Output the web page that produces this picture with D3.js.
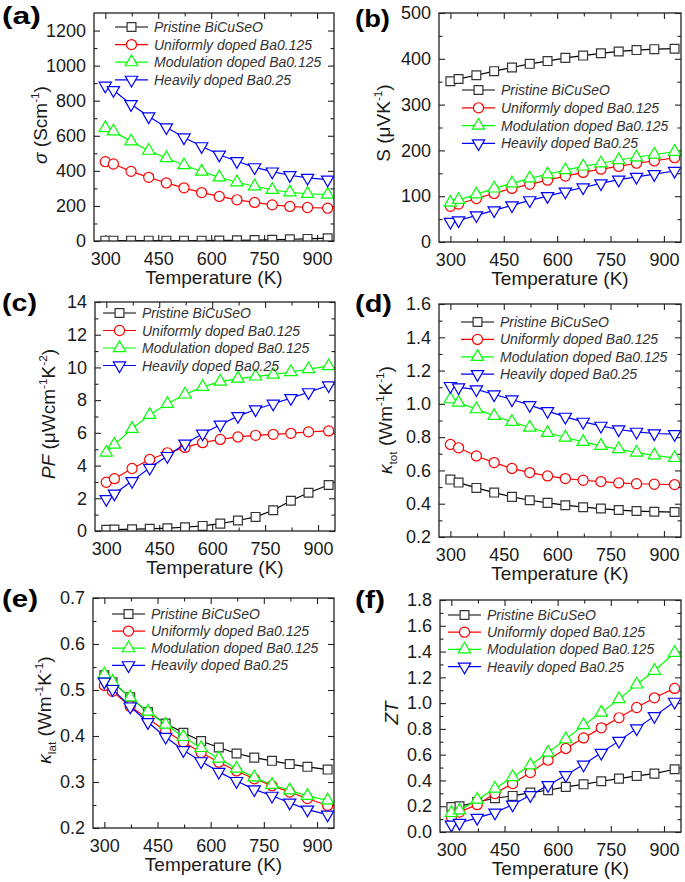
<!DOCTYPE html>
<html><head><meta charset="utf-8">
<script src="https://cdn.jsdelivr.net/npm/d3@7/dist/d3.min.js"></script>
<style>body{margin:0;background:#fff}</style>
</head><body><svg id="c" width="685" height="882"></svg>
<script>
// ---------- data ----------
const temps = [300,323,373,423,473,523,573,623,673,723,773,823,873,930];
const seriesNames = ["Pristine BiCuSeO","Uniformly doped Ba0.125","Modulation doped Ba0.125","Heavily doped Ba0.25"];
const seriesColors = ["#000000","#ff0000","#00ff00","#0000ff"];
const xTicks = [300,450,600,750,900];
const xMinor = [375,525,675,825];

// (a) electrical conductivity
const sigmaPristine   = [2,2,2,2,2,2,2,3,4,5,7,10,12,16];
const sigmaUniform    = [452,439,397,363,331,303,276,254,235,220,206,197,191,187];
const sigmaModulation = [644,625,568,515,473,433,396,363,335,312,292,278,269,265];
const sigmaHeavy      = [885,860,780,710,648,590,540,492,455,420,396,375,360,350];
const sigmaTicks = [0,200,400,600,800,1000,1200];
const sigmaMinor = [100,300,500,700,900,1100];

// (b) Seebeck
const sPristine   = [351,356,364,373,381,389,395,402,407,412,416,419,421,422];
const sUniform    = [78,83,95,106,117,126,135,144,152,159,165,172,177,184];
const sModulation = [86,92,104,117,128,139,148,157,165,172,179,185,191,197];
const sHeavy      = [44,47,58,69,80,91,100,110,119,128,136,142,148,155];
const sTicks = [0,100,200,300,400,500];
const sMinor = [50,150,250,350,450];

// (c) power factor
const pfPristine   = [0.08,0.09,0.11,0.13,0.17,0.23,0.31,0.45,0.64,0.86,1.27,1.85,2.34,2.81];
const pfUniform    = [2.98,3.20,3.82,4.37,4.78,5.11,5.40,5.60,5.75,5.85,5.91,5.97,6.06,6.12];
const pfModulation = [4.80,5.28,6.25,7.10,7.78,8.35,8.81,9.13,9.32,9.45,9.56,9.72,9.90,10.08];
const pfHeavy      = [1.95,2.28,3.05,3.86,4.58,5.34,5.95,6.50,7.02,7.43,7.78,8.12,8.48,8.90];
const pfTicks = [0,2,4,6,8,10,12,14];
const pfMinor = [1,3,5,7,9,11,13];

// (d) total thermal conductivity
const ktotPristine   = [0.545,0.527,0.495,0.467,0.441,0.421,0.405,0.391,0.379,0.371,0.362,0.356,0.352,0.350];
const ktotUniform    = [0.756,0.736,0.687,0.647,0.612,0.587,0.567,0.551,0.541,0.533,0.525,0.520,0.517,0.515];
const ktotModulation = [1.028,1.008,0.968,0.928,0.892,0.858,0.826,0.798,0.772,0.748,0.728,0.707,0.691,0.675];
const ktotHeavy      = [1.107,1.099,1.087,1.056,1.026,0.992,0.956,0.922,0.892,0.868,0.846,0.832,0.822,0.818];
const ktotTicks = [0.2,0.4,0.6,0.8,1.0,1.2,1.4,1.6];
const ktotMinor = [0.3,0.5,0.7,0.9,1.1,1.3,1.5];

// (e) lattice thermal conductivity
const klatPristine   = [0.532,0.517,0.484,0.452,0.427,0.407,0.389,0.375,0.362,0.353,0.346,0.339,0.333,0.327];
const klatUniform    = [0.510,0.497,0.464,0.438,0.411,0.387,0.364,0.343,0.324,0.307,0.292,0.278,0.264,0.249];
const klatModulation = [0.534,0.518,0.484,0.453,0.425,0.398,0.374,0.351,0.329,0.310,0.294,0.282,0.270,0.260];
const klatHeavy      = [0.518,0.502,0.464,0.430,0.398,0.369,0.345,0.322,0.302,0.284,0.270,0.255,0.240,0.229];
const klatTicks = [0.2,0.3,0.4,0.5,0.6,0.7];
const klatMinor = [0.25,0.35,0.45,0.55,0.65];

// (f) figure of merit
const ztPristine   = [0.194,0.199,0.233,0.262,0.280,0.306,0.324,0.350,0.370,0.394,0.414,0.435,0.453,0.487];
const ztUniform    = [0.117,0.155,0.212,0.298,0.376,0.461,0.557,0.648,0.730,0.808,0.886,0.966,1.041,1.114];
const ztModulation = [0.148,0.168,0.251,0.337,0.427,0.518,0.616,0.720,0.829,0.927,1.031,1.145,1.251,1.391];
const ztHeavy      = [0.057,0.070,0.109,0.150,0.212,0.285,0.363,0.440,0.523,0.614,0.707,0.803,0.899,1.010];
const ztTicks = [0,0.2,0.4,0.6,0.8,1.0,1.2,1.4,1.6,1.8];
const ztMinor = [0.1,0.3,0.5,0.7,0.9,1.1,1.3,1.5,1.7];

// ---------- layout ----------
const FONT = "'Liberation Sans', Arial, Helvetica, sans-serif";
const xDomain = [268, 948];
const panels = [
  {id:"a", box:[94,334,13,241], yDom:[0,1300], ticks:sigmaTicks, minor:sigmaMinor, fmt:d3.format("d"),
   series:[sigmaPristine,sigmaUniform,sigmaModulation,sigmaHeavy],
   legend:[115,27,17.6], letter:[2,24,39], ylab:[47,125],
   yparts:[{t:"σ",i:1},{t:" (Scm"},{t:"-1",s:"sup"},{t:")"}]},
  {id:"b", box:[439,681,13,242], yDom:[0,500], ticks:sTicks, minor:sMinor, fmt:d3.format("d"),
   series:[sPristine,sUniform,sModulation,sHeavy],
   legend:[462,90,17.8], letter:[355,27,35], ylab:[390,123],
   yparts:[{t:"S (μVK"},{t:"-1",s:"sup"},{t:")"}]},
  {id:"c", box:[95,335,302,531], yDom:[0,14], ticks:pfTicks, minor:pfMinor, fmt:d3.format("d"),
   series:[pfPristine,pfUniform,pfModulation,pfHeavy],
   legend:[103,313,17.5], letter:[2,311,35], ylab:[55,414],
   yparts:[{t:"PF",i:1},{t:" (μWcm"},{t:"-1",s:"sup"},{t:"K"},{t:"-2",s:"sup"},{t:")"}]},
  {id:"d", box:[439,681,304,537], yDom:[0.2,1.6], ticks:ktotTicks, minor:ktotMinor, fmt:d3.format(".1f"),
   series:[ktotPristine,ktotUniform,ktotModulation,ktotHeavy],
   legend:[461,322,17.4], letter:[355,312,37], ylab:[392,420],
   yparts:[{t:"κ",i:1},{t:"tot",s:"sub"},{t:" (Wm"},{t:"-1",s:"sup"},{t:"K"},{t:"-1",s:"sup"},{t:")"}]},
  {id:"e", box:[93,334,598,828], yDom:[0.2,0.7], ticks:klatTicks, minor:klatMinor, fmt:d3.format(".1f"),
   series:[klatPristine,klatUniform,klatModulation,klatHeavy],
   legend:[112,614,17.1], letter:[2,607,36], ylab:[51,710],
   yparts:[{t:"κ",i:1},{t:"lat",s:"sub"},{t:" (Wm"},{t:"-1",s:"sup"},{t:"K"},{t:"-1",s:"sup"},{t:")"}]},
  {id:"f", box:[440,681,600,832], yDom:[0,1.8], ticks:ztTicks, minor:ztMinor, fmt:d3.format(".1f"),
   series:[ztPristine,ztUniform,ztModulation,ztHeavy],
   legend:[448,615,17.2], letter:[355,608,30], ylab:[398,713],
   yparts:[{t:"ZT",i:1}]}
];

const svg = d3.select("#c").style("font-family", FONT);

const symbols = [
  {type:d3.symbolSquare, size:78, rot:0},
  {type:d3.symbolCircle, size:80, rot:0},
  {type:d3.symbolTriangle, size:66, rot:0},
  {type:d3.symbolTriangle, size:66, rot:180}
];

function rich(sel, parts, fs) {
  let shift = 0;
  parts.forEach(p => {
    const ts = sel.append("tspan").text(p.t);
    let target = 0, size = fs;
    if (p.s === "sup") { target = -0.4*fs; size = 0.62*fs; }
    if (p.s === "sub") { target = 0.28*fs; size = 0.62*fs; }
    ts.attr("dy", target - shift).attr("font-size", size);
    if (p.i) ts.attr("font-style", "italic");
    shift = target;
  });
}

function styleAxis(g, showLabels) {
  g.select(".domain").remove();
  g.selectAll(".tick line").attr("stroke", "#222").attr("stroke-width", 1.1);
  g.selectAll(".tick text").attr("fill", "#1a1a1a").style("font-size", "18px").style("font-family", FONT);
  if (!showLabels) g.selectAll(".tick text").remove();
  g.attr("font-size", null).attr("font-family", null);
}

panels.forEach(p => {
  const [L, R, T, B] = p.box;
  const x = d3.scaleLinear().domain(xDomain).range([L, R]);
  const y = d3.scaleLinear().domain(p.yDom).range([B, T]);
  const g = svg.append("g");

  // axes
  const maj = 6, mn = 3.5;
  g.append("g").attr("transform", `translate(0,${B})`)
    .call(d3.axisBottom(x).tickValues(xTicks).tickSize(-maj).tickPadding(11).tickFormat(d3.format("d")))
    .call(a => styleAxis(a, true));
  g.append("g").attr("transform", `translate(0,${B})`)
    .call(d3.axisBottom(x).tickValues(xMinor).tickSize(-mn).tickFormat(""))
    .call(a => styleAxis(a, false));
  g.append("g").attr("transform", `translate(0,${T})`)
    .call(d3.axisTop(x).tickValues(xTicks).tickSize(-maj).tickFormat(""))
    .call(a => styleAxis(a, false));
  g.append("g").attr("transform", `translate(0,${T})`)
    .call(d3.axisTop(x).tickValues(xMinor).tickSize(-mn).tickFormat(""))
    .call(a => styleAxis(a, false));
  g.append("g").attr("transform", `translate(${L},0)`)
    .call(d3.axisLeft(y).tickValues(p.ticks).tickSize(-maj).tickPadding(8).tickFormat(p.fmt))
    .call(a => styleAxis(a, true));
  g.append("g").attr("transform", `translate(${L},0)`)
    .call(d3.axisLeft(y).tickValues(p.minor).tickSize(-mn).tickFormat(""))
    .call(a => styleAxis(a, false));
  g.append("g").attr("transform", `translate(${R},0)`)
    .call(d3.axisRight(y).tickValues(p.ticks).tickSize(-maj).tickFormat(""))
    .call(a => styleAxis(a, false));
  g.append("g").attr("transform", `translate(${R},0)`)
    .call(d3.axisRight(y).tickValues(p.minor).tickSize(-mn).tickFormat(""))
    .call(a => styleAxis(a, false));

  // clip
  const cid = "clip-" + p.id;
  svg.append("clipPath").attr("id", cid).append("rect")
    .attr("x", L).attr("y", T).attr("width", R - L).attr("height", B - T);
  const plot = g.append("g").attr("clip-path", `url(#${cid})`);

  const line = d3.line().x((d, i) => x(temps[i])).y(d => y(d));
  p.series.forEach((vals, si) => {
    plot.append("path").datum(vals).attr("d", line)
      .attr("fill", "none").attr("stroke", seriesColors[si]).attr("stroke-width", 1.2);
    const sym = d3.symbol().type(symbols[si].type).size(symbols[si].size);
    plot.selectAll(null).data(vals).join("path")
      .attr("d", sym)
      .attr("transform", (d, i) => `translate(${x(temps[i])},${y(d)}) rotate(${symbols[si].rot})`)
      .attr("fill", "#fff")
      .attr("stroke", si === 0 ? "#333" : seriesColors[si])
      .attr("stroke-width", 1.2);
  });

  // frame
  g.append("rect").attr("x", L).attr("y", T).attr("width", R - L).attr("height", B - T)
    .attr("fill", "none").attr("stroke", "#222").attr("stroke-width", 1.3);

  // legend
  const [lx, ly, ldy] = p.legend;
  seriesNames.forEach((name, si) => {
    const yy = ly + si * ldy;
    g.append("line").attr("x1", lx).attr("x2", lx + 33).attr("y1", yy).attr("y2", yy)
      .attr("stroke", seriesColors[si]).attr("stroke-width", 1.2);
    g.append("path").attr("d", d3.symbol().type(symbols[si].type).size(symbols[si].size)())
      .attr("transform", `translate(${lx + 16.5},${yy}) rotate(${symbols[si].rot})`)
      .attr("fill", "#fff").attr("stroke", si === 0 ? "#333" : seriesColors[si]).attr("stroke-width", 1.2);
    g.append("text").attr("x", lx + 39).attr("y", yy + 5)
      .attr("font-size", 14).attr("font-style", "italic").attr("fill", "#333")
      .text(name);
  });

  // x title
  g.append("text").attr("x", (L + R) / 2).attr("y", B + 43)
    .attr("text-anchor", "middle").attr("font-size", 19).attr("fill", "#1a1a1a")
    .text("Temperature (K)");

  // y title
  const yt = g.append("text").attr("transform", `translate(${p.ylab[0]},${p.ylab[1]}) rotate(-90)`)
    .attr("text-anchor", "middle").attr("fill", "#1a1a1a");
  rich(yt, p.yparts, 19);

  // panel letter
  g.append("text").attr("x", p.letter[0]).attr("y", p.letter[1])
    .attr("font-size", 23).attr("font-weight", "bold").attr("fill", "#000")
    .attr("textLength", p.letter[2]).attr("lengthAdjust", "spacingAndGlyphs")
    .text(`(${p.id})`);
});
</script></body></html>
